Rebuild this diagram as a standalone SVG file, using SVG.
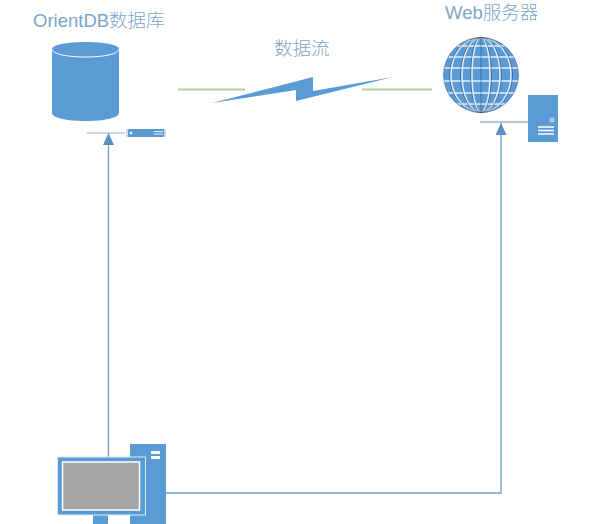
<svg xmlns="http://www.w3.org/2000/svg" width="601" height="524" viewBox="0 0 601 524">
<style>
.t{font-family:"Liberation Sans","Noto Sans CJK SC",sans-serif;fill:#7ba6c9;font-size:18.500px;font-weight:300}
.b{fill:#5b9bd5}
.w{fill:none;stroke:#fff}
.c{fill:none;stroke:#6d9fc9;stroke-width:1.3}
.g{fill:none;stroke:#b7cf9f;stroke-width:2}
.m{fill:none;stroke:#e4eef7;stroke-width:1.500}
.n{fill:none;stroke:#1f3f5f;stroke-width:.6;stroke-opacity:.75}
</style>
<defs>
<marker id="a" markerUnits="userSpaceOnUse" markerWidth="13" markerHeight="13" refX="12" refY="6" orient="auto"><path d="M0 0.500L12 6L0 11.500Z" fill="#5b8fc4"/></marker>
</defs>
<rect width="601" height="524" fill="#fff"/>
<g id="connectors">
<path class="c" d="M108.500 457V133" marker-end="url(#a)"/>
<path class="c" d="M166 493H501V123" marker-end="url(#a)"/>
<path class="g" d="M178 89.500H245M362 89.500H432"/>
<path d="M212 103L313 77V91L393 77L296 101V90Z" class="b"/>
</g>
<g id="label-flow"><text class="t" x="274" y="55">数据流</text></g>
<g id="node-db">
<text class="t" x="33" y="27">OrientDB数据库</text>
<path class="b" d="M52 49C52 45 67 42 85.500 42S119 45 119 49V113C119 118 104 121 85.500 121S52 118 52 113Z"/>
<path class="w" d="M52 49C52 54 67 57 85.500 57S119 54 119 49" stroke-width="1"/>
<path d="M87 133H125" stroke="#8fb4d4" stroke-width="1.200" fill="none"/>
<rect class="b" x="128" y="129" width="36" height="8" rx="1"/>
<path d="M127 129V137M165 129V137" stroke="#8fb4d4" fill="none"/>
<circle cx="131" cy="133" r="1.200" fill="#fff"/>
<path d="M154 131.500H163M154 134H163" stroke="#e6eff7" stroke-width="1.200" fill="none"/>
</g>
<g id="node-web">
<text class="t" x="445" y="19">Web服务器</text>
<circle class="b" cx="481" cy="75" r="37.500"/>
<g class="m">
<path d="M457 46H505M448 57H514M444 68H518M444 81H518M448 93H514M457 104H505"/>
<ellipse cx="481" cy="75" rx="9" ry="37.500"/>
<ellipse cx="481" cy="75" rx="19" ry="37.500"/>
<ellipse cx="481" cy="75" rx="30" ry="37.500"/>
</g>
<g class="n">
<circle cx="481" cy="75" r="37.500"/>
<path d="M481 37.500V112.500"/>
<ellipse cx="481" cy="75" rx="10.500" ry="37.500"/>
<ellipse cx="481" cy="75" rx="20.500" ry="37.500"/>
<ellipse cx="481" cy="75" rx="31.500" ry="37.500"/>
</g>
<path d="M480 122H528" stroke="#5f8fb8" stroke-width="1.200" fill="none"/>
<rect class="b" x="528" y="95" width="30" height="47"/>
<circle cx="552" cy="120" r="1.800" fill="none" stroke="#fff" stroke-width="1"/>
<path d="M538 127H554M538 130.500H554M538 134H554" stroke="#fff" stroke-width="1.500" fill="none"/>
</g>
<g id="node-client">
<rect class="b" x="130" y="444" width="36" height="80"/>
<path d="M151 452.500H160M151 457.500H160" stroke="#fff" stroke-width="3" fill="none"/>
<rect class="b" x="93" y="515" width="15" height="9"/>
<rect x="57.500" y="457" width="88" height="58" class="b" stroke="#dbe9f5" stroke-width="1"/>
<rect x="62.500" y="462" width="77" height="48" fill="#a5a5a5" stroke="#fff" stroke-width="1.500"/>
</g>
</svg>
